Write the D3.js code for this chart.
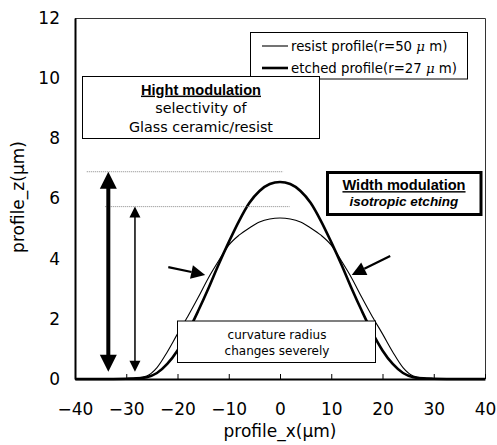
<html>
<head>
<meta charset="utf-8">
<script src="https://d3js.org/d3.v7.min.js"></script>
<style>
body { margin: 0; background: #fff; }
text { font-family: "DejaVu Sans", sans-serif; fill: #000; }
.bold { font-family: "Liberation Sans", Arial, sans-serif; font-weight: bold; }
</style>
</head>
<body>
<script>
// profile data (x in um, z in um)
var xVals   = [-40,-35,-30,-28,-26,-24,-22,-20,-18,-16,-14,-12,-10,-8,-6,-4,-2,0,2,4,6,8,10,12,14,16,18,20,22,24,26,28,30,35,40];
var resistZ = [0,0,0.01,0.03,0.1,0.38,0.9,1.5,2.08,2.7,3.35,3.92,4.45,4.78,5.02,5.22,5.32,5.35,5.32,5.22,5.02,4.78,4.45,3.92,3.35,2.7,2.08,1.5,0.9,0.38,0.1,0.03,0.01,0,0];
var etchedZ = [0,0,0.01,0.02,0.06,0.2,0.5,0.95,1.55,2.25,3.0,3.8,4.55,5.25,5.85,6.25,6.48,6.55,6.48,6.25,5.85,5.25,4.55,3.8,3.0,2.25,1.55,0.95,0.5,0.2,0.06,0.02,0.01,0,0];

var xTicks = [-40,-30,-20,-10,0,10,20,30,40];
var yTicks = [0,2,4,6,8,10,12];
var seriesNames = [["resist profile(r=50 ", "\u03bc", " m)"], ["etched profile(r=27 ", "\u03bc", " m)"]];

// annotation positions in data units
var dottedLines = [[-37.7, 0.6, 6.89], [-34.1, 1.9, 5.73]];     // x1, x2, z
var heightArrows = [[-33.5, 6.89, 0.24, 4, 17], [-28.3, 5.73, 0.24, 1.5, 11]]; // x, zTop, zBottom, width, head
var pointerArrows = [[-21.8, 3.72, -14.6, 3.46], [21.5, 4.09, 14.0, 3.46]]; // tail x,z -> tip x,z

var w = 497, h = 445;
var padL = 75, padR = 485, padT = 18, padB = 379;

var svg = d3.select("body").append("svg").attr("width", w).attr("height", h);

var xScale = d3.scaleLinear().domain([-40, 40]).range([padL, padR]);
var yScale = d3.scaleLinear().domain([0, 12]).range([padB, padT]);

// frame (top / right thin)
svg.append("path")
  .attr("d", "M" + padL + "," + (padT + 0.5) + "H" + (padR + 0.5) + "V" + padB)
  .attr("fill", "none").attr("stroke", "#333").attr("stroke-width", 1);

// curves
var line = d3.line()
  .x(function(d) { return xScale(d[0]); })
  .y(function(d) { return yScale(d[1]); })
  .curve(d3.curveMonotoneX);

var resist = xVals.map(function(x, i) { return [x, resistZ[i]]; });
var etched = xVals.map(function(x, i) { return [x, etchedZ[i]]; });

svg.append("path").datum(resist).attr("d", line)
  .attr("fill", "none").attr("stroke", "#000").attr("stroke-width", 1.1);
svg.append("path").datum(etched).attr("d", line)
  .attr("fill", "none").attr("stroke", "#000").attr("stroke-width", 2.6);

// dotted guide lines
dottedLines.forEach(function(d) {
  svg.append("line")
    .attr("x1", xScale(d[0])).attr("x2", xScale(d[1]))
    .attr("y1", yScale(d[2])).attr("y2", yScale(d[2]))
    .attr("stroke", "#888").attr("stroke-width", 1).attr("stroke-dasharray", "1,1");
});

// vertical double arrows
heightArrows.forEach(function(d) {
  var x = xScale(d[0]), y1 = yScale(d[1]), y2 = yScale(d[2]), hd = d[4], hw = hd / 2;
  svg.append("line").attr("x1", x).attr("x2", x).attr("y1", y1 + hd - 2).attr("y2", y2 - hd + 2)
    .attr("stroke", "#000").attr("stroke-width", d[3]);
  svg.append("path").attr("d", "M" + x + "," + y1 + "L" + (x - hw) + "," + (y1 + hd) + "L" + (x + hw) + "," + (y1 + hd) + "Z");
  svg.append("path").attr("d", "M" + x + "," + y2 + "L" + (x - hw) + "," + (y2 - hd) + "L" + (x + hw) + "," + (y2 - hd) + "Z");
});

// pointer arrows at the crossings
pointerArrows.forEach(function(d) {
  var x1 = xScale(d[0]), y1 = yScale(d[1]), x2 = xScale(d[2]), y2 = yScale(d[3]);
  var ang = Math.atan2(y2 - y1, x2 - x1), len = 14, hw = 7;
  var bx = x2 - len * Math.cos(ang), by = y2 - len * Math.sin(ang);
  svg.append("line").attr("x1", x1).attr("y1", y1).attr("x2", bx).attr("y2", by)
    .attr("stroke", "#000").attr("stroke-width", 2.2);
  svg.append("path").attr("d", "M" + x2 + "," + y2 +
    "L" + (bx + hw * Math.sin(ang)) + "," + (by - hw * Math.cos(ang)) +
    "L" + (bx - hw * Math.sin(ang)) + "," + (by + hw * Math.cos(ang)) + "Z");
});

// legend box
svg.append("rect").attr("x", 250.5).attr("y", 32.5).attr("width", 217).attr("height", 46.5)
  .attr("fill", "#fff").attr("stroke", "#000").attr("stroke-width", 1);
seriesNames.forEach(function(parts, i) {
  var y = 46 + i * 22;
  svg.append("line").attr("x1", 262).attr("x2", 288).attr("y1", y).attr("y2", y)
    .attr("stroke", "#000").attr("stroke-width", i == 0 ? 1.1 : 2.6);
  var t = svg.append("text").attr("x", 291).attr("y", y).attr("dy", "0.35em")
    .style("font-size", "13.3px").attr("xml:space", "preserve");
  t.append("tspan").text(parts[0]);
  t.append("tspan").style("font-style", "italic").style("font-family", "DejaVu Serif").text(parts[1]);
  t.append("tspan").text(parts[2]);
});

// Hight modulation box
svg.append("rect").attr("x", 82.5).attr("y", 76.5).attr("width", 237).attr("height", 62)
  .attr("fill", "#fff").attr("stroke", "#000").attr("stroke-width", 1);
svg.append("text").attr("class", "bold").attr("x", 201).attr("y", 89.5).attr("dy", "0.35em")
  .attr("text-anchor", "middle").style("font-size", "14.6px").style("text-decoration", "underline")
  .text("Hight modulation");
svg.append("text").attr("x", 201).attr("y", 108).attr("dy", "0.35em")
  .attr("text-anchor", "middle").style("font-size", "14.3px").text("selectivity of");
svg.append("text").attr("x", 201).attr("y", 126.5).attr("dy", "0.35em")
  .attr("text-anchor", "middle").style("font-size", "14.3px").text("Glass ceramic/resist");

// Width modulation box
svg.append("rect").attr("x", 327.5).attr("y", 172.5).attr("width", 153.5).attr("height", 42)
  .attr("fill", "#fff").attr("stroke", "#000").attr("stroke-width", 3);
svg.append("text").attr("class", "bold").attr("x", 404).attr("y", 185).attr("dy", "0.35em")
  .attr("text-anchor", "middle").style("font-size", "14.6px").style("text-decoration", "underline")
  .text("Width modulation");
svg.append("text").attr("class", "bold").attr("x", 404).attr("y", 201.5).attr("dy", "0.35em")
  .attr("text-anchor", "middle").style("font-size", "13.5px").style("font-style", "italic")
  .text("isotropic etching");

// curvature box
svg.append("rect").attr("x", 177.5).attr("y", 321).attr("width", 198).attr("height", 41.5)
  .attr("fill", "#fff").attr("stroke", "#000").attr("stroke-width", 1);
svg.append("text").attr("x", 277).attr("y", 334.5).attr("dy", "0.35em")
  .attr("text-anchor", "middle").style("font-size", "12px").text("curvature radius");
svg.append("text").attr("x", 277).attr("y", 351).attr("dy", "0.35em")
  .attr("text-anchor", "middle").style("font-size", "12px").text("changes severely");

// axes
var xAxis = d3.axisBottom(xScale).tickValues(xTicks).tickSizeInner(-5).tickSizeOuter(0).tickPadding(24);
var yAxis = d3.axisLeft(yScale).tickValues(yTicks).tickSize(0).tickPadding(15);

var gx = svg.append("g").attr("transform", "translate(0," + padB + ")").call(xAxis);
var gy = svg.append("g").attr("transform", "translate(" + padL + ",0)").call(yAxis);
[gx, gy].forEach(function(g) {
  g.select(".domain").attr("stroke", "#000").attr("stroke-width", 2);
  g.selectAll(".tick line").attr("stroke", "#000");
  g.selectAll("text").style("font-family", "DejaVu Sans").style("font-size", "17px").attr("fill", "#000");
});

svg.append("text").attr("x", 280).attr("y", 437).attr("text-anchor", "middle")
  .style("font-size", "17px").text("profile_x(\u03bcm)");
svg.append("text").attr("transform", "translate(24,197) rotate(-90)").attr("text-anchor", "middle")
  .style("font-size", "17px").text("profile_z(\u03bcm)");
</script>
</body>
</html>
